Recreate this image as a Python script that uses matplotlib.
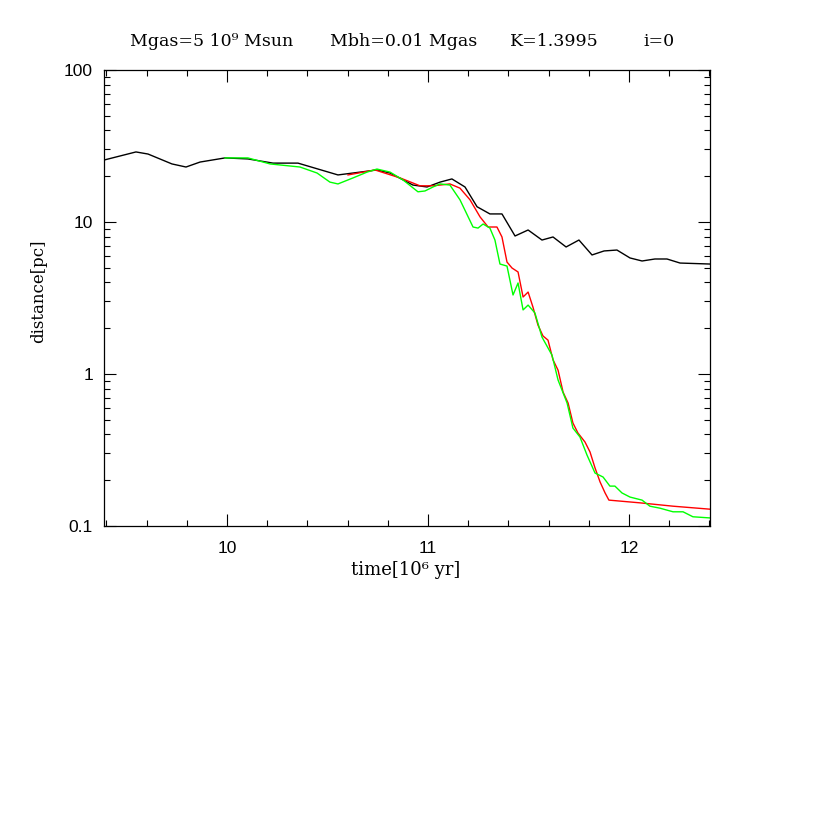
"""
Black-hole inspiral distance versus time, three runs on a log axis.
"""

import matplotlib

matplotlib.use("Agg")
import matplotlib.pyplot as plt
from matplotlib.ticker import LogLocator, MultipleLocator, NullFormatter

# time in 10^6 yr, distance in pc
black_t = [9.39, 9.547, 9.607, 9.726, 9.796, 9.866, 9.990, 10.104, 10.229, 10.353,
           10.552, 10.627, 10.746, 10.811, 10.925, 10.995, 11.060, 11.119, 11.184,
           11.244, 11.308, 11.368, 11.433, 11.498, 11.567, 11.622, 11.687, 11.751,
           11.816, 11.876, 11.940, 12.005, 12.065, 12.129, 12.189, 12.254, 12.403]
black_d = [25.6, 28.9, 28.0, 24.1, 23.0, 24.8, 26.4, 26.0, 24.4, 24.4,
           20.4, 21.0, 22.0, 21.0, 17.5, 17.0, 18.3, 19.2, 17.0,
           12.6, 11.3, 11.3, 8.09, 8.86, 7.61, 7.97, 6.85, 7.61,
           6.07, 6.45, 6.54, 5.80, 5.54, 5.71, 5.71, 5.37, 5.29]

red_t = [10.602, 10.736, 10.861, 10.960, 11.025, 11.109, 11.159, 11.209, 11.259,
         11.299, 11.343, 11.368, 11.393, 11.418, 11.448, 11.473, 11.498, 11.522,
         11.547, 11.572, 11.597, 11.622, 11.647, 11.672, 11.697, 11.721, 11.746,
         11.781, 11.806, 11.831, 11.856, 11.881, 11.900, 12.055, 12.219, 12.403]
red_d = [20.4, 22.0, 19.5, 17.3, 17.3, 17.8, 16.7, 14.0, 10.8,
         9.27, 9.27, 7.97, 5.45, 4.98, 4.69, 3.21, 3.46, 2.76,
         2.10, 1.78, 1.67, 1.24, 1.06, 0.76, 0.644, 0.476, 0.409,
         0.357, 0.307, 0.241, 0.195, 0.165, 0.148, 0.142, 0.135, 0.129]

green_t = [9.990, 10.104, 10.214, 10.363, 10.448, 10.512, 10.552, 10.627, 10.697,
           10.746, 10.811, 10.876, 10.950, 10.985, 11.025, 11.060, 11.109, 11.159,
           11.224, 11.249, 11.274, 11.308, 11.333, 11.358, 11.393, 11.423, 11.448,
           11.473, 11.498, 11.532, 11.567, 11.617, 11.647, 11.692, 11.721, 11.756,
           11.791, 11.831, 11.871, 11.905, 11.930, 11.965, 12.005, 12.065, 12.104,
           12.154, 12.219, 12.269, 12.318, 12.403]
green_d = [26.4, 26.4, 24.1, 23.0, 21.0, 18.3, 17.8, 19.5, 21.3,
           22.3, 21.3, 18.9, 15.8, 16.0, 17.0, 17.8, 17.5, 14.0,
           9.27, 9.12, 9.70, 9.12, 7.61, 5.29, 5.13, 3.31, 3.97,
           2.64, 2.84, 2.52, 1.75, 1.33, 0.913, 0.644, 0.441, 0.385,
           0.293, 0.223, 0.210, 0.183, 0.183, 0.165, 0.155, 0.148, 0.135,
           0.131, 0.124, 0.124, 0.115, 0.113]

# title pieces and their left edges in figure pixels
title_parts = ["Mgas=5 10\u2079 Msun", "Mbh=0.01 Mgas", "K=1.3995", "i=0"]
title_left_px = [130, 330, 510, 643]

if __name__ == "__main__":
    W = H = 830
    fig = plt.figure(figsize=(W / 100, H / 100), dpi=100)
    ax = fig.add_axes([104 / W, 1 - 526 / H, 606 / W, 456 / H])

    ax.plot(black_t, black_d, color="black", lw=1.0)
    ax.plot(red_t, red_d, color="#ff0000", lw=1.0)
    ax.plot(green_t, green_d, color="#00ff00", lw=1.0)

    ax.set_yscale("log")
    ax.set_xlim(9.388, 12.403)
    ax.set_ylim(0.1, 100)

    ax.xaxis.set_major_locator(MultipleLocator(1))
    ax.xaxis.set_minor_locator(MultipleLocator(0.2))
    ax.yaxis.set_major_locator(LogLocator(base=10))
    ax.yaxis.set_minor_locator(LogLocator(base=10, subs=range(2, 10)))
    ax.yaxis.set_minor_formatter(NullFormatter())
    ax.yaxis.set_major_formatter(lambda val, pos: f"{val:g}")

    ax.tick_params(which="both", direction="in", top=True, right=True,
                   width=0.8, color="black")
    ax.tick_params(which="major", length=8.5)
    ax.tick_params(which="minor", length=4.3)
    ax.tick_params(axis="x", which="major", pad=11)
    ax.tick_params(axis="y", which="major", pad=8)
    for lab in ax.get_xticklabels() + ax.get_yticklabels():
        lab.set_family("Liberation Sans")
        lab.set_fontsize(12.5)
    for sp in ax.spines.values():
        sp.set_linewidth(0.9)

    fig.text(406 / W, 1 - 570 / H, "time[10\u2076 yr]", family="DejaVu Serif",
             fontsize=13, ha="center", va="center")
    fig.text(39 / W, 1 - 291 / H, "distance[pc]", family="DejaVu Serif",
             fontsize=12, ha="center", va="center", rotation=90)
    for part, left in zip(title_parts, title_left_px):
        fig.text(left / W, 1 - 42 / H, part, family="DejaVu Serif",
                 fontsize=12.5, ha="left", va="center")

    fig.savefig("out.png", dpi=100)
